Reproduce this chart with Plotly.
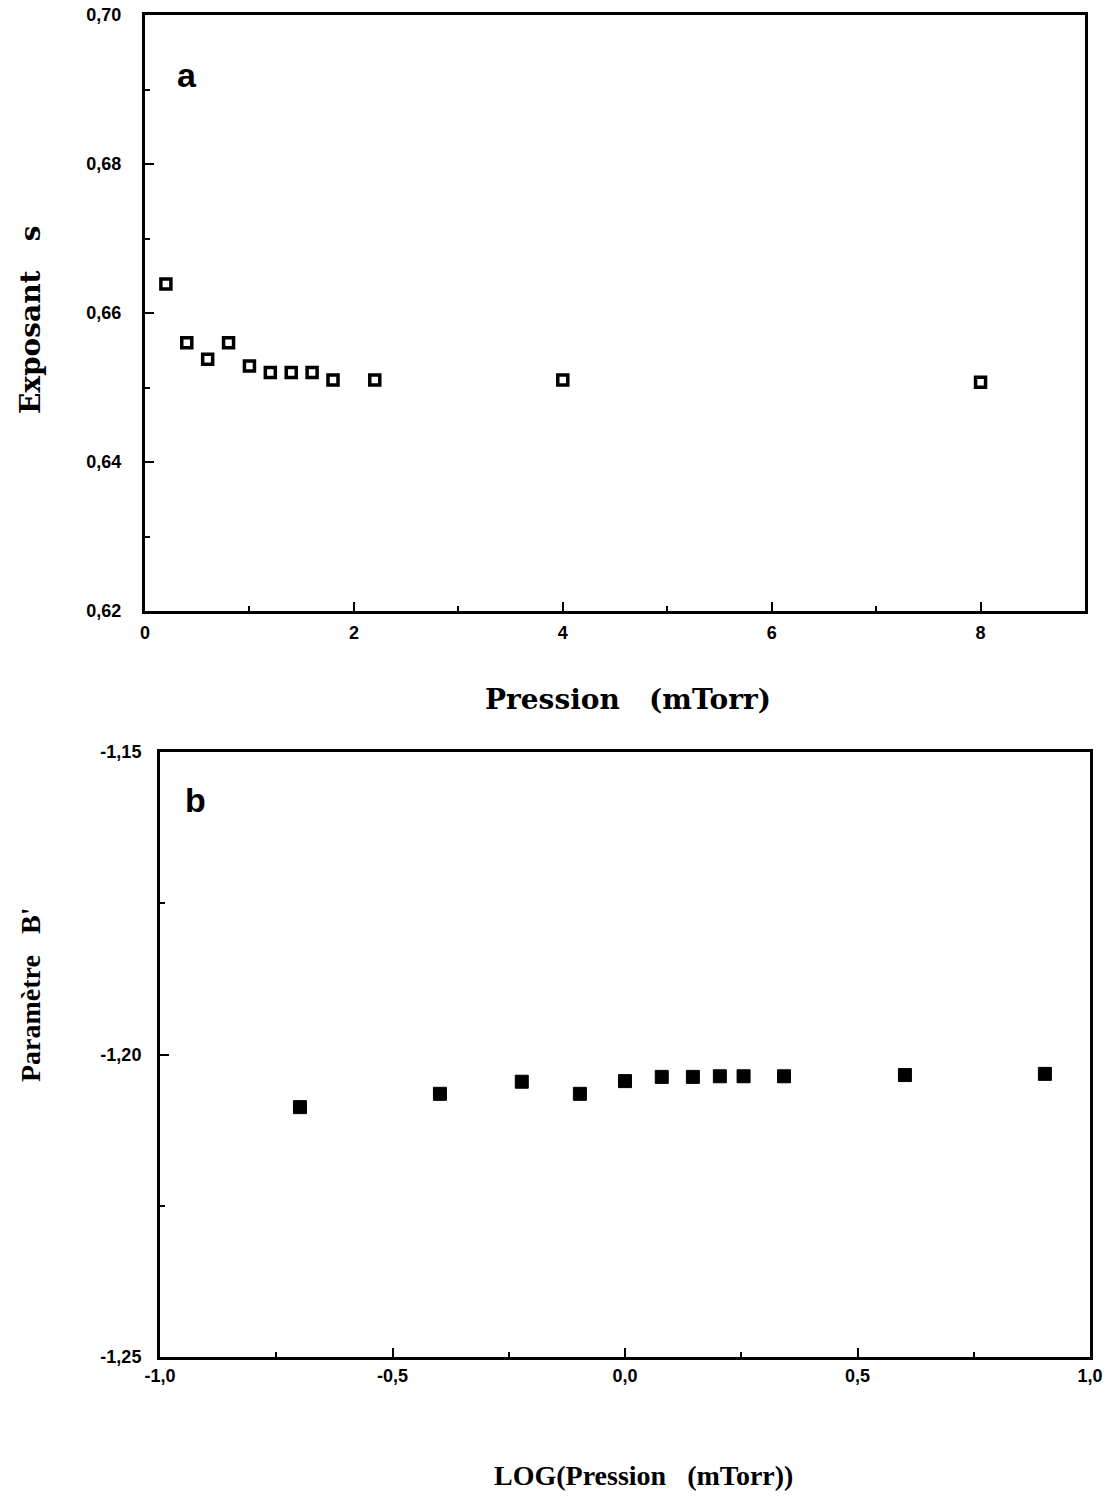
import plotly.graph_objects as go

# Panel a data
pression_a = [0.2, 0.4, 0.6, 0.8, 1.0, 1.2, 1.4, 1.6, 1.8, 2.2, 4.0, 8.0]
exposant_s = [0.6639, 0.6560, 0.6538, 0.6560, 0.6529, 0.6520, 0.6520, 0.6520, 0.6510, 0.6510, 0.6510, 0.6507]

# Panel b data
log_pression_b = [-0.699, -0.398, -0.222, -0.097, 0.0, 0.079, 0.146, 0.204, 0.255, 0.342, 0.602, 0.903]
parametre_b = [-1.2087, -1.2065, -1.2045, -1.2065, -1.2044, -1.2037, -1.2037, -1.2036, -1.2036, -1.2036, -1.2034, -1.2032]

# Tick labels
xa_vals = [0, 2, 4, 6, 8]
xa_text = ["0", "2", "4", "6", "8"]
ya_vals = [0.62, 0.64, 0.66, 0.68, 0.70]
ya_text = ["0,62", "0,64", "0,66", "0,68", "0,70"]
xb_vals = [-1.0, -0.5, 0.0, 0.5, 1.0]
xb_text = ["-1,0", "-0,5", "0,0", "0,5", "1,0"]
yb_vals = [-1.25, -1.20, -1.15]
yb_text = ["-1,25", "-1,20", "-1,15"]

W, H = 1119, 1501

fig = go.Figure()
fig.add_trace(go.Scatter(
    x=pression_a, y=exposant_s, mode="markers", xaxis="x", yaxis="y",
    marker=dict(symbol="square", size=10, color="white", line=dict(color="black", width=3.5)),
    showlegend=False))
fig.add_trace(go.Scatter(
    x=log_pression_b, y=parametre_b, mode="markers", xaxis="x2", yaxis="y2",
    marker=dict(symbol="square", size=13, color="black", line=dict(color="black", width=1)),
    showlegend=False))

tickfont = dict(family="Liberation Sans", size=18, color="black", weight="bold")
common = dict(showline=True, linecolor="black", linewidth=3, mirror=True,
              ticks="inside", tickcolor="black", tickwidth=2, ticklen=9,
              showgrid=False, zeroline=False, tickfont=tickfont, automargin=False)
minor_style = dict(ticks="inside", ticklen=5, tickwidth=2, tickcolor="black", showgrid=False)

fig.update_layout(
    width=W, height=H,
    margin=dict(l=0, r=0, t=0, b=0, pad=0, autoexpand=False),
    paper_bgcolor="white", plot_bgcolor="white",
    xaxis=dict(domain=[145 / W, 1085 / W], range=[0, 9], anchor="y",
               tickvals=xa_vals, ticktext=xa_text, ticklabelstandoff=3,
               minor=dict(dtick=1, **minor_style), **common),
    yaxis=dict(domain=[1 - 611 / H, 1 - 15 / H], range=[0.62, 0.70], anchor="x",
               tickvals=ya_vals, ticktext=ya_text, ticklabelstandoff=17,
               minor=dict(dtick=0.01, **minor_style), **common),
    xaxis2=dict(domain=[160 / W, 1090 / W], range=[-1.0, 1.0], anchor="y2",
                tickvals=xb_vals, ticktext=xb_text, ticklabelstandoff=0,
                minor=dict(dtick=0.25, **minor_style), **common),
    yaxis2=dict(domain=[1 - 1357 / H, 1 - 752 / H], range=[-1.25, -1.15], anchor="x2",
                tickvals=yb_vals, ticktext=yb_text, ticklabelstandoff=12,
                minor=dict(dtick=0.025, **minor_style), **common),
)

dejavu = dict(family="DejaVu Serif", size=28, color="black", weight="bold")
libser = dict(family="Liberation Serif", size=28, color="black", weight="bold")
labelfont = dict(family="Liberation Sans", size=34, color="black", weight="bold")

def ann(text, x, y, font, angle=0):
    fig.add_annotation(text=text, xref="paper", yref="paper", x=x / W, y=1 - y / H,
                       xanchor="center", yanchor="middle", showarrow=False,
                       textangle=angle, font=font)

ann("Pression\u00a0\u00a0\u00a0(mTorr)", 628, 700, dejavu)
ann("LOG(Pression\u00a0\u00a0\u00a0(mTorr))", 643, 1475, libser)
ann("Exposant\u00a0\u00a0\u00a0s", 30, 320, dejavu, -90)
ann("Paramètre\u00a0\u00a0\u00a0B'", 30, 995, libser, -90)
ann("a", 187, 75, labelfont)
ann("b", 196, 800, labelfont)

fig.write_html("out.html")
